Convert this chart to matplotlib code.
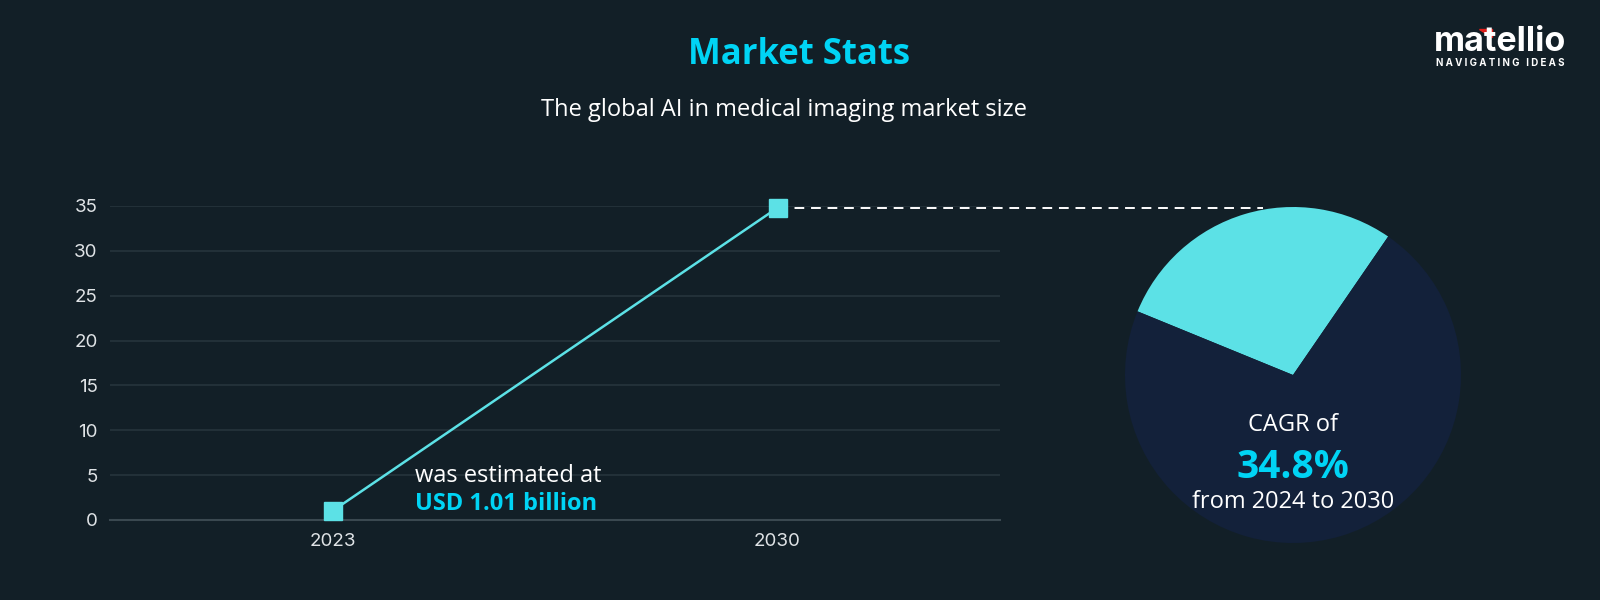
import matplotlib.pyplot as plt
from matplotlib.patches import Polygon

years = ['2023', '2030']
market_size = [1.01, 34.8]
y_ticks = [0, 5, 10, 15, 20, 25, 30, 35]
pie_share = [28.4, 71.6]

bg = '#121f27'
cyan = '#5ce1e6'
bright = '#00d4f5'
navy = '#13213a'

plt.rcParams['font.family'] = ['Open Sans', 'DejaVu Sans']

fig = plt.figure(figsize=(16, 6), dpi=100, facecolor=bg)

# titles
fig.text(0.4995, 0.909, 'Market Stats', ha='center', va='center', color=bright,
         fontsize=25, fontweight='bold')
fig.text(0.49, 0.816, 'The global AI in medical imaging market size', ha='center',
         va='center', color='white', fontsize=17)

# logo
fig.text(0.9375, 0.930, 'matellio', ha='center', va='center', color='white',
         fontsize=24.5, fontweight='bold', family=['Inter', 'DejaVu Sans'])
fig.text(0.9375, 0.895, 'N A V I G A T I N G   I D E A S', ha='center', va='center',
         color='white', fontsize=7, fontweight='bold', family=['Inter', 'DejaVu Sans'])
fig.patches.append(Polygon([[0.9245, 0.952], [0.9325, 0.952], [0.9325, 0.939]],
                           closed=True, transform=fig.transFigure, color='#e0201b'))

# line chart
ax = fig.add_axes([110 / 1600, 80 / 600, 890 / 1600, 314 / 600], facecolor=bg)
x = range(len(years))
ax.plot(x, market_size, color=cyan, lw=1.8, marker='s', markersize=13,
        markerfacecolor=cyan, markeredgecolor=cyan, clip_on=False, zorder=5)
ax.set_xlim(-0.5, 1.5)
ax.set_ylim(0, 35)
ax.set_xticks(list(x))
ax.set_xticklabels(years, family=['Inter', 'DejaVu Sans'])
ax.set_yticks(y_ticks)
ax.set_yticklabels([str(v) for v in y_ticks], family=['Inter', 'DejaVu Sans'])
ax.grid(axis='y', color='#26343c', lw=1.2)
ax.set_axisbelow(True)
for s in ['top', 'right', 'left']:
    ax.spines[s].set_visible(False)
ax.spines['bottom'].set_color('#3a4850')
ax.spines['bottom'].set_linewidth(1.5)
ax.tick_params(axis='both', length=0, colors='#dfe3e6', labelsize=13.5)
ax.tick_params(axis='x', pad=9)
ax.tick_params(axis='y', pad=9)

# connector to the pie
ax.hlines(market_size[1], 1, 2.09, colors='white', linestyles=(0, (5, 3.5)),
          lw=1.4, clip_on=False, zorder=4)

ax.text(0.185, 4.95, 'was estimated at', color='white', fontsize=17,
        ha='left', va='center')
ax.text(0.185, 1.75, 'USD 1.01 billion', color=bright, fontsize=17,
        fontweight='bold', ha='left', va='center')

# pie
ax2 = fig.add_axes([1125 / 1600, 57 / 600, 336 / 1600, 336 / 600])
ax2.pie(pie_share, colors=[cyan, navy], startangle=55.5, counterclock=True,
        radius=1, wedgeprops=dict(linewidth=0))
ax2.set_xlim(-1, 1)
ax2.set_ylim(-1, 1)
ax2.text(0, -0.30, 'CAGR of', color='white', fontsize=17, ha='center', va='center')
ax2.text(0, -0.55, '34.8%', color=bright, fontsize=28, fontweight='bold',
         ha='center', va='center')
ax2.text(0, -0.755, 'from 2024 to 2030', color='white', fontsize=17,
         ha='center', va='center')

fig.savefig('out.png', dpi=100, facecolor=bg)
